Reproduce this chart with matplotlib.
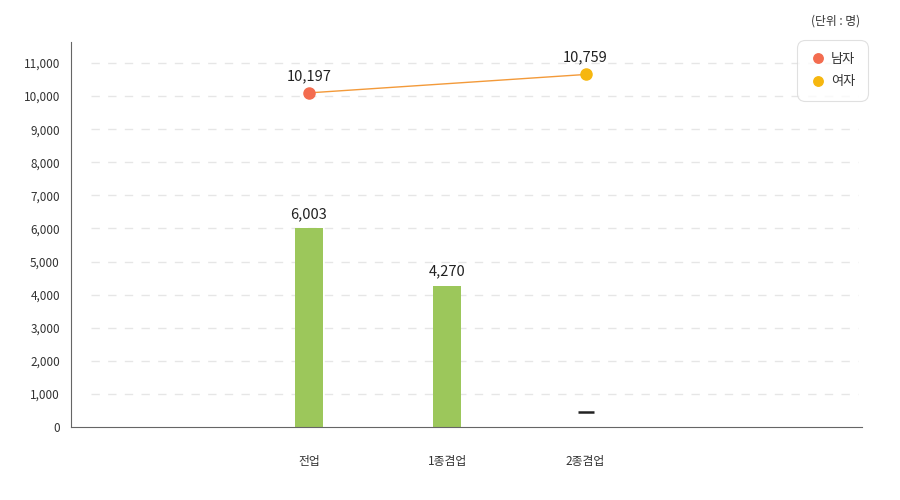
import matplotlib.pyplot as plt

plt.rcParams["font.family"] = ["Noto Sans CJK KR", "DejaVu Sans"]

categories = ["전업", "1종겸업", "2종겸업"]
bar_values = [6003, 4270, None]
line_x = [0, 2]
line_values = [10197, 10759]
line_names = ["남자", "여자"]
point_colors = ["#f36c4f", "#f6b70f"]
y_ticks = list(range(0, 12000, 1000))

fig = plt.figure(figsize=(9, 5), dpi=100)
ax = fig.add_axes([0.0789, 0.146, 0.879, 0.77])
# line series sits on its own hidden value axis
ax2 = ax.twinx()

for i, v in enumerate(bar_values):
    if v is None:
        # missing value shown as a dash
        ax.plot(i, 450, marker="_", color="#222222", markersize=11, markeredgewidth=1.8)
        continue
    ax.bar(i, v, width=0.2, color="#9cc75b", zorder=2)
    ax.annotate(f"{v:,}", (i, v), xytext=(0, 5), textcoords="offset points",
                ha="center", va="bottom", fontsize=10.5, color="#222222")

ax2.plot(line_x, line_values, color="#f39a3a", lw=1, zorder=3)
handles = []
for x, v, name, c in zip(line_x, line_values, line_names, point_colors):
    h, = ax2.plot(x, v, "o", color=c, markersize=8, zorder=4, label=name)
    handles.append(h)
    ax2.annotate(f"{v:,}", (x, v), xytext=(0, 7), textcoords="offset points",
                 ha="center", va="bottom", fontsize=10.5, color="#222222")

ax.set_xlim(-1.72, 4.0)
ax.set_ylim(0, 11635)
ax2.set_ylim(0, 11750)
ax2.set_yticks([])
ax.set_yticks(y_ticks)
ax.set_yticklabels([f"{t:,}" for t in y_ticks])
ax.set_xticks(range(len(categories)))
ax.set_xticklabels(categories)
ax.tick_params(axis="both", length=0, labelsize=8.5, colors="#333333", pad=8)
ax.tick_params(axis="x", pad=20)

for t in y_ticks[1:]:
    ax.axhline(t, xmin=0.025, xmax=0.995, color="#e6e6e6", lw=1, ls=(0, (6, 6)), zorder=1)

for a in (ax, ax2):
    for s in ["top", "right"]:
        a.spines[s].set_visible(False)
ax2.spines["left"].set_visible(False)
ax2.spines["bottom"].set_visible(False)
ax.spines["left"].set_color("#666666")
ax.spines["bottom"].set_color("#666666")

leg = fig.legend(handles=handles, loc="upper right", bbox_to_anchor=(0.9644, 0.92),
                 frameon=True, fontsize=9.5, handletextpad=0.35, labelspacing=0.75,
                 borderpad=0.95, borderaxespad=0, handlelength=1.3, markerscale=0.85)
leg.get_frame().set_edgecolor("#d9d9d9")
leg.get_frame().set_linewidth(0.8)
leg.get_frame().set_boxstyle("round,pad=0,rounding_size=0.6")
for txt in leg.get_texts():
    txt.set_color("#333333")

fig.text(0.928, 0.958, "(단위 : 명)", ha="center", va="center", fontsize=8.5, color="#333333")

fig.savefig("out.png", dpi=100)
